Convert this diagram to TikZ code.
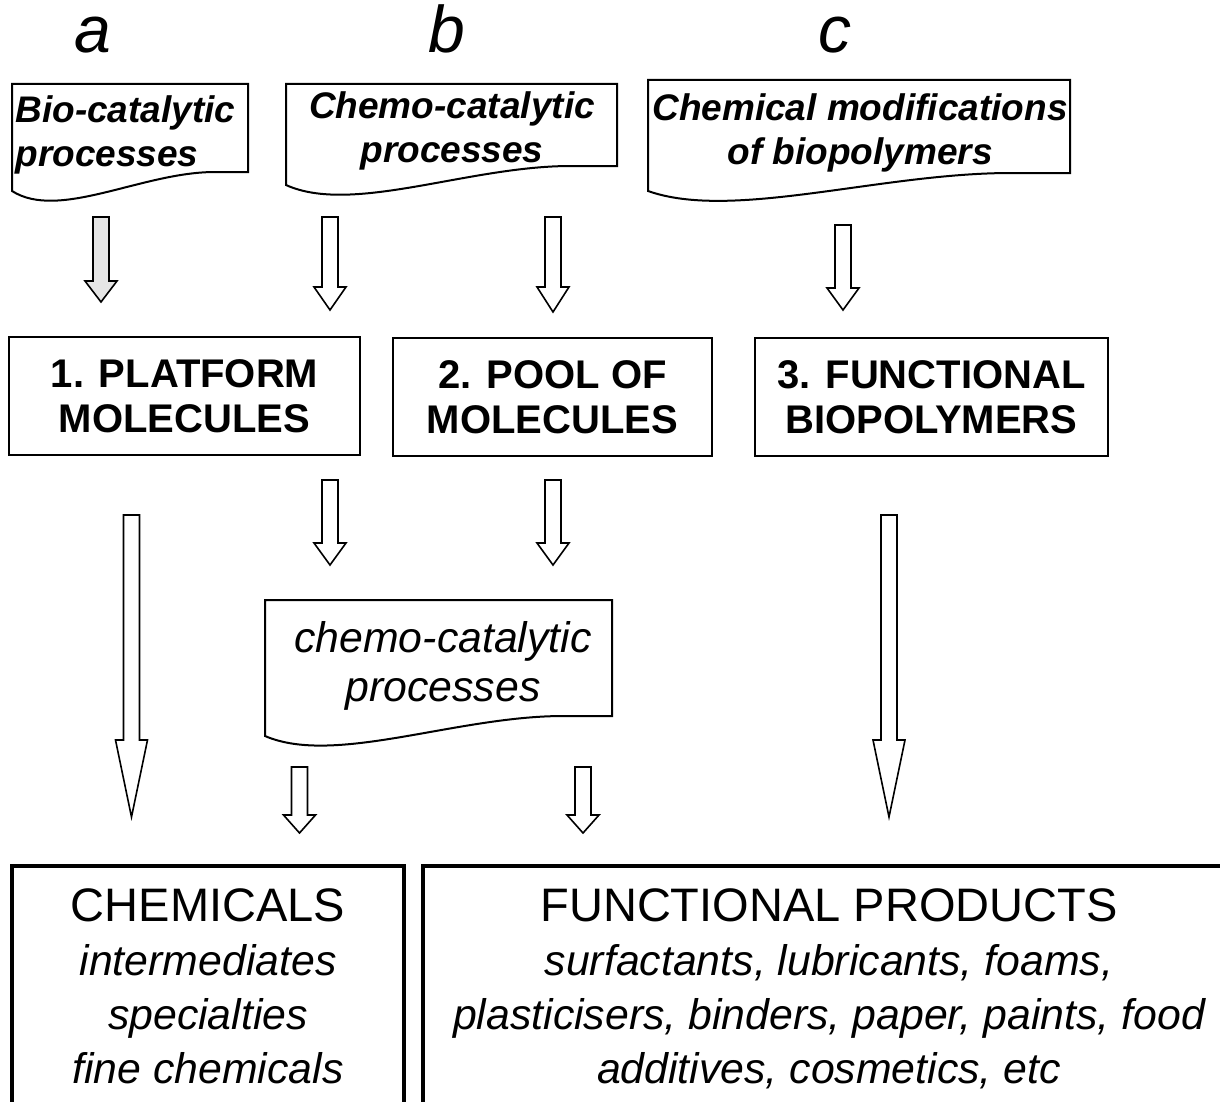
\documentclass[tikz,border=0pt]{standalone}
\usepackage{fontspec}
\setmainfont{Liberation Sans}
\usetikzlibrary{calc}

\newcommand{\blockarrow}[5][white]{%
  \draw[line width=0.8pt,fill=#1] ({#2-8},#3) -- ({#2+8},#3) -- ({#2+8},#4) -- ({#2+16},#4)
    -- (#2,#5) -- ({#2-16},#4) -- ({#2-8},#4) -- cycle;}
\newcommand{\docshape}[5]{%
  \pgfmathsetmacro{\dw}{#3-#1}
  \draw[line width=1pt] (#1,#4) -- (#1,#2) -- (#3,#2) -- (#3,#5) -- ({#3-0.14*\dw},#5)
    .. controls ({#1+0.55*\dw},#5) and ({#1+0.2*\dw},{#4+30}) .. (#1,#4) -- cycle;}
\newcommand{\headline}[1]{{\fontsize{23.5}{27}\selectfont\upshape #1}}

\begin{document}
\begin{tikzpicture}[x=0.5pt,y=-0.5pt,
  letter/.style={font=\fontsize{33}{36}\selectfont\itshape,anchor=base,inner sep=0pt},
  toplabel/.style={font=\fontsize{18.5}{22}\selectfont\bfseries\itshape,align=center,anchor=north,inner sep=0pt},
  molbox/.style={draw,line width=1pt,minimum height=59pt,font=\fontsize{20}{22.5}\selectfont\bfseries,align=center},
  proclabel/.style={font=\fontsize{21.4}{24.5}\selectfont\itshape,align=center,anchor=north,inner sep=0pt},
  outcome/.style={font=\fontsize{21.4}{27}\selectfont\itshape,align=center,anchor=north,inner sep=0pt}]
\clip (0,0) rectangle (1220,1102);

\node[letter] (colA) at (93,53) {a};
\node[letter] (colB) at (447,53) {b};
\node[letter] (colC) at (835,53) {c};

\docshape{12}{84}{248}{191}{172}
\node[toplabel,align=left,anchor=north west] (bio) at (15,95) {Bio-catalytic\\processes};
\docshape{286}{84}{617}{185}{166}
\node[toplabel] (chemo) at (452,91) {Chemo-catalytic\\processes};
\docshape{648}{80}{1070}{191}{173}
\node[toplabel] (chemmod) at (860,93) {Chemical modifications\\of biopolymers};

\blockarrow[black!10]{101}{217}{281}{302}
\blockarrow{330}{217}{287}{310}
\blockarrow{553}{217}{287}{312}
\blockarrow{843}{225}{288}{310}

\node[molbox,minimum width=175.5pt] (platform) at (184.5,396) {1. PLATFORM\\MOLECULES};
\node[molbox,minimum width=159.5pt] (pool) at (552.5,397) {2. POOL OF\\MOLECULES};
\node[molbox,minimum width=176.5pt] (funcpoly) at (931.5,397) {3. FUNCTIONAL\\BIOPOLYMERS};

\blockarrow{131.5}{515}{740}{817}
\blockarrow{330}{480}{543}{565}
\blockarrow{553}{480}{543}{565}
\blockarrow{889}{515}{740}{817}

\docshape{265}{600}{612}{736}{716}
\node[proclabel] (chemolow) at (443,621) {chemo-catalytic\\processes};

\blockarrow{299.5}{767}{815}{833}
\blockarrow{583}{767}{815}{833}

\draw[line width=2pt] (12,866) rectangle (404,1130);
\draw[line width=2pt] (423,866) rectangle (1240,1130);
\node[outcome] (chemicals) at (208,888) {\headline{CHEMICALS}\\intermediates\\specialties\\fine chemicals};
\node[outcome] (products) at (829,888) {\headline{FUNCTIONAL PRODUCTS}\\surfactants, lubricants, foams,\\plasticisers, binders, paper, paints, food\\additives, cosmetics, etc};
\end{tikzpicture}
\end{document}
